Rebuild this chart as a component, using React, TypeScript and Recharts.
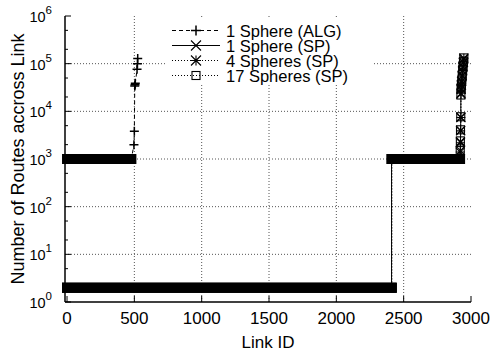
import { ComposedChart, Line, XAxis, YAxis, CartesianGrid, Legend } from 'recharts';

const FONT = '"Liberation Sans", Arial, Helvetica, sans-serif';

const xTicks = [0, 500, 1000, 1500, 2000, 2500, 3000];
const yTicks = [1, 2, 5, 10, 20, 50, 100, 200, 500, 1e3, 2e3, 5e3, 1e4, 2e4, 5e4, 1e5, 2e5, 5e5, 1e6];
const yDecades = [1, 10, 100, 1e3, 1e4, 1e5, 1e6];
const xGrid = [500, 1000, 1500, 2000, 2500];
const yGrid = [10, 100, 1e3, 1e4, 1e5];

// flat stretches of links with the same route count: [first id, last id, routes]
const algRuns = [[0, 478, 1000]];
const sp1Runs = [[0, 2410, 2], [2410, 2918, 1000]];
const sp4Runs = [[0, 2411, 2], [2411, 2918, 1000]];
const sp17Runs = [[0, 2412, 2], [2412, 2919, 1000]];

// the heavily loaded links after each stretch: [id, routes]
const algPeaks = [[497, 2000], [500, 3800], [503, 34000], [505, 36000], [507, 39000], [520, 76000], [523, 100000], [525, 128000]];
const sp1Peaks = [[2921, 1500], [2922, 2300], [2923, 4000], [2924, 7600], [2925, 23000], [2926, 30000], [2928, 36000], [2930, 42000], [2934, 55000], [2937, 70000], [2940, 85000], [2943, 105000], [2946, 125000]];
const sp4Peaks = [[2920, 1400], [2922, 2200], [2923, 3900], [2925, 7400], [2926, 24000], [2927, 29000], [2929, 35000], [2931, 43000], [2935, 57000], [2938, 72000], [2941, 88000], [2944, 108000], [2947, 130000]];
const sp17Peaks = [[2920, 1500], [2921, 2400], [2922, 4100], [2924, 7700], [2925, 22000], [2927, 31000], [2929, 37000], [2932, 45000], [2935, 58000], [2938, 74000], [2941, 90000], [2944, 112000], [2947, 132000]];

const series = [
  { name: '1 Sphere (ALG)', runs: algRuns, peaks: algPeaks, dash: '4 3', marker: 'plus' },
  { name: '1 Sphere (SP)', runs: sp1Runs, peaks: sp1Peaks, dash: undefined, marker: 'cross' },
  { name: '4 Spheres (SP)', runs: sp4Runs, peaks: sp4Peaks, dash: '1 2', marker: 'star' },
  { name: '17 Spheres (SP)', runs: sp17Runs, peaks: sp17Peaks, dash: '1 2', marker: 'square' },
];

const trace = (runs: number[][], peaks: number[][]) => [
  ...runs.flatMap(([a, b, v]) => [{ id: a, routes: v }, { id: b, routes: v }]),
  ...peaks.map(([id, v]) => ({ id, routes: v, peak: true })),
];

const Marker = ({ kind, cx, cy, r }: { kind: string; cx: number; cy: number; r: number }) => {
  const plus = `M${cx - r},${cy}H${cx + r}M${cx},${cy - r}V${cy + r}`;
  const cross = `M${cx - r},${cy - r}L${cx + r},${cy + r}M${cx - r},${cy + r}L${cx + r},${cy - r}`;
  if (kind === 'square') {
    return <rect x={cx - r} y={cy - r} width={2 * r} height={2 * r} fill="none" stroke="#000" strokeWidth={1.1} />;
  }
  const d = kind === 'plus' ? plus : kind === 'cross' ? cross : plus + cross;
  return <path d={d} fill="none" stroke="#000" strokeWidth={kind === 'plus' ? 1.5 : 1.1} />;
};

const LeftTick = ({ x, y, payload }: any) => {
  const major = yDecades.includes(payload.value);
  return (
    <g>
      <line x1={x} x2={x + (major ? 6 : 3)} y1={y} y2={y} stroke="#000" />
      {major && (
        <text x={x - 13} y={y + 6} textAnchor="end" fill="#000" fontFamily={FONT}>
          <tspan fontSize={14.5}>10</tspan>
          <tspan fontSize={11.5} dy={-8}>{Math.round(Math.log10(payload.value))}</tspan>
        </text>
      )}
    </g>
  );
};

const RightTick = ({ x, y, payload }: any) => {
  const major = yDecades.includes(payload.value);
  return <line x1={x} x2={x - (major ? 6 : 3)} y1={y} y2={y} stroke="#000" />;
};

const BottomTick = ({ x, y, payload }: any) => (
  <g>
    <line x1={x} x2={x} y1={y} y2={y - 6} stroke="#000" />
    <text x={x} y={y + 22} textAnchor="middle" fontSize={17} fill="#000" fontFamily={FONT}>
      {payload.value}
    </text>
  </g>
);

const TopTick = ({ x, y }: any) => <line x1={x} x2={x} y1={y} y2={y + 6} stroke="#000" />;

const KeyBox = () => (
  <svg width={207} height={67} style={{ display: 'block' }}>
    {series.map((s, i) => {
      const cy = 12.5 + i * 15;
      return (
        <g key={s.name}>
          <line x1={7} x2={55} y1={cy} y2={cy} stroke="#000" strokeDasharray={s.dash} />
          <Marker kind={s.marker} cx={31} cy={cy} r={s.marker === 'square' ? 4 : 5} />
          <text x={61} y={cy + 6} fontSize={16.5} fill="#000" fontFamily={FONT}>
            {s.name}
          </text>
        </g>
      );
    })}
  </svg>
);

const frame = { stroke: '#000', strokeWidth: 1.5 };

export default function App() {
  return (
    <div style={{ position: 'absolute', left: 0, top: 0, fontFamily: FONT }}>
      <ComposedChart width={491} height={352} margin={{ top: 16, right: 20, bottom: 0, left: 0 }}>
        <CartesianGrid
          horizontalValues={yGrid}
          verticalValues={xGrid}
          stroke="#555"
          strokeDasharray="1 2"
        />
        <XAxis
          dataKey="id"
          type="number"
          domain={[-15, 3000]}
          ticks={xTicks}
          interval={0}
          height={50}
          tickSize={0}
          tickMargin={0}
          tickLine={false}
          tick={<BottomTick />}
          axisLine={frame}
          label={{
            content: ({ viewBox }: any) => (
              <text x={viewBox.x + viewBox.width / 2} y={348} textAnchor="middle" fontSize={17} fill="#000" fontFamily={FONT}>
                Link ID
              </text>
            ),
          }}
        />
        <XAxis
          xAxisId="top"
          orientation="top"
          type="number"
          domain={[-15, 3000]}
          ticks={xTicks}
          interval={0}
          height={0}
          tickSize={0}
          tickMargin={0}
          tickLine={false}
          tick={<TopTick />}
          axisLine={frame}
        />
        <YAxis
          type="number"
          scale="log"
          domain={[1, 1e6]}
          ticks={yTicks}
          interval={0}
          width={65}
          tickSize={0}
          tickMargin={0}
          tickLine={false}
          tick={<LeftTick />}
          axisLine={frame}
          label={{
            content: ({ viewBox }: any) => {
              const cy = viewBox.y + viewBox.height / 2;
              return (
                <text x={24} y={cy} transform={`rotate(-90, 24, ${cy})`} textAnchor="middle" fontSize={18} fill="#000" fontFamily={FONT}>
                  Number of Routes accross Link
                </text>
              );
            },
          }}
        />
        <YAxis
          yAxisId="right"
          orientation="right"
          type="number"
          scale="log"
          domain={[1, 1e6]}
          ticks={yTicks}
          interval={0}
          width={0}
          tickSize={0}
          tickMargin={0}
          tickLine={false}
          tick={<RightTick />}
          axisLine={frame}
          allowDataOverflow
        />
        {series.flatMap((s) =>
          s.runs.map(([a, b, v], j) => (
            <Line
              key={`${s.name}-run-${j}`}
              data={[{ id: a, routes: v }, { id: b, routes: v }]}
              dataKey="routes"
              stroke="#000"
              strokeWidth={10}
              strokeLinecap="square"
              dot={false}
              activeDot={false}
              legendType="none"
              isAnimationActive={false}
            />
          ))
        )}
        {series.map((s) => (
          <Line
            key={s.name}
            name={s.name}
            data={trace(s.runs, s.peaks)}
            dataKey="routes"
            stroke="#000"
            strokeWidth={1}
            strokeDasharray={s.dash}
            activeDot={false}
            isAnimationActive={false}
            dot={(p: any) =>
              p.payload.peak ? (
                <g key={`${s.name}-m-${p.index}`}>
                  <Marker kind={s.marker} cx={p.cx} cy={p.cy} r={s.marker === 'square' ? 4 : 4.5} />
                </g>
              ) : (
                <g key={`${s.name}-m-${p.index}`} />
              )
            }
          />
        ))}
        <Legend
          layout="vertical"
          align="center"
          verticalAlign="middle"
          wrapperStyle={{ left: 165, top: 18, width: 207, height: 67, background: '#fff' }}
          content={() => <KeyBox />}
        />
      </ComposedChart>
    </div>
  );
}
